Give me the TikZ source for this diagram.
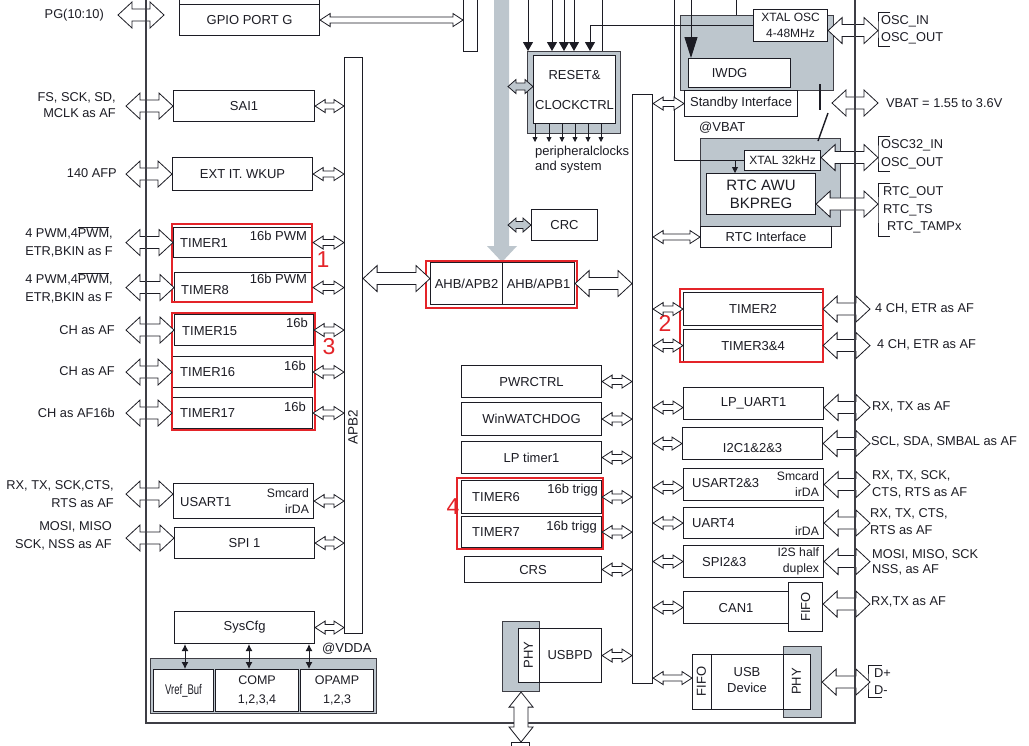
\documentclass[tikz,border=0pt]{standalone}
\usepackage{fontspec}
\setmainfont{Liberation Sans}
\usetikzlibrary{calc,arrows.meta}

\definecolor{ink}{HTML}{1C1C24}
\definecolor{bgray}{HTML}{BDC6CD}
\definecolor{redmark}{HTML}{E42429}

\newcommand{\ovl}[1]{\ensuremath{\overline{\mbox{#1}}}}
% fat hollow double arrow, horizontal, left point first
\newcommand{\fatarr}[3][hollow]{%
  \path[#1] let \p1=#2, \p2=#3 in
    (\x1,\y1) -- (\x1+14pt,\y1+13pt) -- (\x1+14pt,\y1+6pt) -- (\x2-14pt,\y1+6pt)
    -- (\x2-14pt,\y1+13pt) -- (\x2,\y1) -- (\x2-14pt,\y1-13pt) -- (\x2-14pt,\y1-6pt)
    -- (\x1+14pt,\y1-6pt) -- (\x1+14pt,\y1-13pt) -- cycle;}
% thin double arrow, horizontal
\newcommand{\thinarr}[3][hollow]{%
  \path[#1] let \p1=#2, \p2=#3 in
    (\x1,\y1) -- (\x1+10pt,\y1+6.5pt) -- (\x1+10pt,\y1+3pt) -- (\x2-10pt,\y1+3pt)
    -- (\x2-10pt,\y1+6.5pt) -- (\x2,\y1) -- (\x2-10pt,\y1-6.5pt) -- (\x2-10pt,\y1-3pt)
    -- (\x1+10pt,\y1-3pt) -- (\x1+10pt,\y1-6.5pt) -- cycle;}
% short double arrow for the AHB side
\newcommand{\stubarr}[3][grayarr]{%
  \path[#1] let \p1=#2, \p2=#3 in
    (\x1,\y1) -- (\x1+8pt,\y1+7pt) -- (\x1+8pt,\y1+3.5pt) -- (\x2-8pt,\y1+3.5pt)
    -- (\x2-8pt,\y1+7pt) -- (\x2,\y1) -- (\x2-8pt,\y1-7pt) -- (\x2-8pt,\y1-3.5pt)
    -- (\x1+8pt,\y1-3.5pt) -- (\x1+8pt,\y1-7pt) -- cycle;}
% fat hollow double arrow, vertical, top point first
\newcommand{\fatarrv}[3][hollow]{%
  \path[#1] let \p1=#2, \p2=#3 in
    (\x1,\y1) -- (\x1+12pt,\y1-15pt) -- (\x1+7pt,\y1-15pt) -- (\x1+7pt,\y2+15pt)
    -- (\x1+12pt,\y2+15pt) -- (\x1,\y2) -- (\x1-12pt,\y2+15pt) -- (\x1-7pt,\y2+15pt)
    -- (\x1-7pt,\y1-15pt) -- (\x1-12pt,\y1-15pt) -- cycle;}

\tikzset{
  every node/.style={font=\fontsize{13}{16}\selectfont, text=ink, inner sep=0pt},
  blk/.style={draw=ink, line width=1.1pt, fill=white, anchor=north west, align=center},
  gblk/.style={draw=ink!85, line width=1.1pt, fill=bgray, anchor=north west},
  grp/.style={draw=redmark, line width=1.8pt},
  grpnum/.style={text=redmark, font=\fontsize{23}{23}\selectfont},
  pinl/.style={anchor=east, align=right, font=\fontsize{12.8}{17}\selectfont},
  pinr/.style={anchor=west, align=left, font=\fontsize{12.8}{17}\selectfont},
  side/.style={font=\fontsize{12.2}{16}\selectfont, align=right},
  hollow/.style={draw=ink, line width=0.8pt, fill=white, line join=miter},
  grayarr/.style={draw=ink, line width=0.8pt, fill=bgray},
  wire/.style={draw=ink, line width=0.9pt},
  bus/.style={draw=ink!85, line width=1.2pt},
  intip/.style={wire, -{Triangle[length=9pt,width=10pt]}},
  bigtip/.style={wire, -{Triangle[length=21pt,width=13pt]}},
  outtip/.style={wire, line width=0.8pt, -{Triangle[length=5pt,width=5pt]}},
  lsetip/.style={wire, -{Triangle[length=6pt,width=6pt]}},
  cfgtip/.style={wire, line width=1pt, {Latex[length=7pt,width=7pt]}-{Latex[length=7pt,width=7pt]}},
}

\begin{document}
\begin{tikzpicture}[x=1pt,y=-1pt]
  \fill[white] (0,0) rectangle (1029,745);
  \useasboundingbox (0,0) rectangle (1029,745);

  % bus and pin reference points
  \coordinate (lbus) at (146,0);
  \coordinate (rbus) at (855,0);
  \coordinate (busbot) at (0,723);
  \coordinate (pinL) at (126,0);
  \coordinate (pinR) at (870,0);
  \coordinate (oscpin) at (878,0);
  \coordinate (ahbbar) at (508,0);
  \coordinate (pgL) at (118,15);
  \coordinate (pgR) at (164,15);
  \coordinate (vbatL) at (832,103);
  \coordinate (usbend) at (520,742);

  % AHB bus coming from the top
  \fill[bgray] (494,0) -- (509,0) -- (509,246) -- (517,246) -- (502,262) -- (487,246) -- (494,246) -- cycle;

  % gray backgrounds
  \node[gblk, minimum width=93, minimum height=82] (rstg) at (527,51) {};
  \node[gblk, minimum width=153, minimum height=75] (oscg) at (680,15) {};
  \node[gblk, minimum width=140, minimum height=88] (rtcg) at (700,138) {};
  \node[gblk, minimum width=226, minimum height=55] (vdda) at (150,658) {};
  \node[gblk, minimum width=37, minimum height=70] (usbpdg) at (502,621) {};
  \node[gblk, minimum width=38, minimum height=71] (usbphy) at (783,646) {};

  % clock wiring
  \draw[wire] (736,0) -- (736,0 |- oscg.north);
  \draw[wire] (674,0) |- (744,160);
  \draw[bigtip] (691,0) -- (691,58);

  % left column
  \node[blk, minimum width=140, minimum height=16] (gpioup) at (179,-12) {};
  \node[blk, minimum width=140, minimum height=31] (gpio) at (179,4) {GPIO PORT G};
  \node[blk, minimum width=14, minimum height=61] (gpiobus) at (463,-10) {};
  \node[blk, minimum width=141, minimum height=31] (sai) at (173,90) {SAI1};
  \node[blk, minimum width=140, minimum height=33] (exti) at (172,157) {EXT IT. WKUP};
  \node[blk, minimum width=139, minimum height=30] (tima) at (173,227) {};
  \node[anchor=west] (timat) at ([xshift=7pt]tima.west) {TIMER1};
  \node[anchor=east] (timas) at ([xshift=-6pt,yshift=-9pt]tima.north east) {16b PWM};
  \node[blk, minimum width=138, minimum height=30] (timh) at (174,272) {};
  \node[anchor=west] (timht) at ([xshift=7pt,yshift=-2pt]timh.west) {TIMER8};
  \node[anchor=east] (timhs) at ([xshift=-6pt,yshift=-7pt]timh.north east) {16b PWM};
  \node[blk, minimum width=139, minimum height=31] (timo) at (174,314) {};
  \node[anchor=west] (timot) at ([xshift=8pt,yshift=-1pt]timo.west) {TIMER15};
  \node[anchor=east] (timos) at ([xshift=-6pt,yshift=-9pt]timo.north east) {16b};
  \node[blk, minimum width=140, minimum height=31] (timp) at (172,356) {};
  \node[anchor=west] (timpt) at ([xshift=8pt]timp.west) {TIMER16};
  \node[anchor=east] (timps) at ([xshift=-7pt,yshift=-10pt]timp.north east) {16b};
  \node[blk, minimum width=140, minimum height=31] (timq) at (172,397) {};
  \node[anchor=west] (timqt) at ([xshift=8pt]timq.west) {TIMER17};
  \node[anchor=east] (timqs) at ([xshift=-7pt,yshift=-10pt]timq.north east) {16b};
  \node[blk, minimum width=140, minimum height=35] (usart) at (173,483) {};
  \node[anchor=west] (usartt) at ([xshift=7pt,yshift=-1pt]usart.west) {USART1};
  \node[side, anchor=east] (usarts) at ([xshift=-5pt]usart.east) {Smcard\\irDA};
  \node[blk, minimum width=140, minimum height=31] (spi) at (174,527) {SPI 1};
  \node[blk, minimum width=140, minimum height=32] (sysc) at (174,611) {SysCfg};
  \node[blk, minimum width=60, minimum height=42] (vref) at (153,669) {\fontsize{14}{16}\selectfont\scalebox{0.68}[1]{Vref\_Buf}};
  \node[blk, minimum width=83, minimum height=42, font=\fontsize{12.5}{19}\selectfont] (comp) at (215,669) {COMP\\1,2,3,4};
  \node[blk, minimum width=73, minimum height=42, font=\fontsize{12.5}{19}\selectfont] (opamp) at (300,669) {OPAMP\\1,2,3};
  \node[anchor=west] (vddat) at (322,649) {@VDDA};
  \node[blk, minimum width=18, minimum height=576] (apbtwo) at (344,57) {};
  \node[rotate=90, font=\fontsize{13.5}{16}\selectfont] (apbtwot) at (353,427) {APB2};

  % middle column
  \node[blk, minimum width=72, minimum height=42] (ahbtwo) at (430,262) {AHB/APB2};
  \node[blk, minimum width=72, minimum height=42] (ahbone) at (502,262) {AHB/APB1};
  \node[blk, minimum width=82, minimum height=68] (rstw) at (533,55) {RESET\&\\[14pt]CLOCKCTRL};
  \node[blk, minimum width=66, minimum height=31] (crc) at (531,209) {CRC};
  \node[anchor=west, align=left, font=\fontsize{13}{15}\selectfont] (perclk) at (535,160) {peripheralclocks\\and system};
  \node[blk, minimum width=140, minimum height=32] (pwr) at (461,365) {PWRCTRL};
  \node[blk, minimum width=140, minimum height=33] (wwdg) at (461,402) {WinWATCHDOG};
  \node[blk, minimum width=140, minimum height=32] (lptim) at (461,441) {LP timer1};
  \node[blk, minimum width=140, minimum height=33] (timf) at (461,480) {};
  \node[anchor=west] (timft) at ([xshift=11pt]timf.west) {TIMER6};
  \node[anchor=east] (timfs) at ([xshift=-4pt,yshift=-10pt]timf.north east) {16b trigg};
  \node[blk, minimum width=140, minimum height=31] (timg) at (461,516) {};
  \node[anchor=west] (timgt) at ([xshift=11pt]timg.west) {TIMER7};
  \node[anchor=east] (timgs) at ([xshift=-5pt,yshift=-11pt]timg.north east) {16b trigg};
  \node[blk, minimum width=137, minimum height=26] (crs) at (464,556) {CRS};
  \node[blk, minimum width=83, minimum height=54] (usbpd) at (518,628) {};
  \draw[wire] (539,0 |- usbpd.north) -- (539,0 |- usbpd.south);
  \node[rotate=90] (usbpdphy) at (528.5,655) {PHY};
  \node (usbpdt) at (570,655) {USBPD};
  \node[blk, minimum width=20, minimum height=589] (apbone) at (632,94) {};

  % right column
  \node[blk, minimum width=74, minimum height=32, font=\fontsize{12}{16}\selectfont] (xtalosc) at (753,9) {XTAL OSC\\4-48MHz};
  \node[blk, minimum width=102, minimum height=29] (iwdg) at (688,58) {};
  \node (iwdgt) at ([xshift=-10pt]iwdg.center) {IWDG};
  \node[blk, minimum width=113, minimum height=26] (standby) at (684,90) {Standby Interface};
  \node[anchor=west] (vbatt) at (699,128) {@VBAT};
  \node[blk, minimum width=76, minimum height=20, font=\fontsize{12}{16}\selectfont] (xtallse) at (744,150) {XTAL 32kHz};
  \node[blk, minimum width=109, minimum height=41, font=\fontsize{15}{18}\selectfont] (rtcawu) at (706,173) {RTC AWU\\BKPREG};
  \node[blk, minimum width=131, minimum height=21] (rtcif) at (700,226) {RTC Interface};
  \node[blk, minimum width=139, minimum height=33] (timb) at (683,292) {TIMER2};
  \node[blk, minimum width=139, minimum height=32] (timc) at (683,329) {TIMER3\&4};
  \node[blk, minimum width=140, minimum height=32] (lpuart) at (683,387) {LP\_UART1};
  \node[blk, minimum width=140, minimum height=32] (iic) at (682,427) {};
  \node (iict) at ([yshift=-4pt]iic.center) {I2C1\&2\&3};
  \node[blk, minimum width=140, minimum height=32] (usartb) at (683,468) {};
  \node[anchor=west] (usartbt) at ([xshift=9pt,yshift=2pt]usartb.west) {USART2\&3};
  \node[side, anchor=east] (usartbs) at ([xshift=-5pt]usartb.east) {Smcard\\irDA};
  \node[blk, minimum width=140, minimum height=31] (uart) at (683,507) {};
  \node[anchor=west] (uartt) at ([xshift=9pt]uart.west) {UART4};
  \node[side, anchor=east] (uarts) at ([xshift=-5pt,yshift=-8pt]uart.east) {irDA};
  \node[blk, minimum width=140, minimum height=32] (spib) at (683,545) {};
  \node[anchor=west] (spibt) at ([xshift=19pt]spib.west) {SPI2\&3};
  \node[side, anchor=east] (spibs) at ([xshift=-5pt]spib.east) {I2S half\\duplex};
  \node[blk, minimum width=105, minimum height=32] (can) at (683,591) {CAN1};
  \node[blk, minimum width=34, minimum height=49] (canfifo) at (788,582) {};
  \node[rotate=90] (canfifot) at (canfifo.center) {FIFO};
  \node[blk, minimum width=118, minimum height=55] (usbdev) at (692,654) {};
  \draw[wire] (711,0 |- usbdev.north) -- (711,0 |- usbdev.south);
  \draw[wire] (783,0 |- usbdev.north) -- (783,0 |- usbdev.south);
  \node[rotate=90] (usbfifo) at (701.5,681.5) {FIFO};
  \node[align=center] (usbdevt) at (747,680) {USB\\Device};
  \node[rotate=90] (usbphyt) at (796.5,681.5) {PHY};

  % clock arrows into and out of RESET & CLOCKCTRL
  \foreach \x in {528,552,564,574}
    \draw[intip] (\x,0) -- (\x,0 |- rstg.north);
  \draw[intip] (xtalosc.west) -| (590,0 |- rstg.north);
  \draw[wire] (602,0) -- (602,0 |- rstg.north);
  \foreach \x in {535,549,562,575,588,601}
    \draw[outtip] (\x,0 |- rstw.south) -- (\x,142);
  \draw[lsetip] (735,0 |- xtallse.west) -- (735,0 |- rtcawu.north);
  % VBAT switch
  \draw[ink, line width=2pt] (820,84) -- (820,110);
  \draw[ink, line width=1.4pt] (828,113) -- (818,141);

  % groups
  \draw[grp] (172,224) rectangle (312,302);
  \draw[grp] (172,313) rectangle (315,430);
  \draw[grp] (426,261) rectangle (577,308);
  \draw[grp] (680,289) rectangle (823,362);
  \draw[grp] (457,478) rectangle (603,549);
  \node[grpnum] (numa) at (323,260) {1};
  \node[grpnum] (numb) at (665,323) {2};
  \node[grpnum] (numc) at (329,347) {3};
  \node[grpnum] (numd) at (453,507) {4};

  % left pins
  \node[pinl] (pgpin) at (104,15) {PG(10:10)};
  \node[pinl, font=\fontsize{12.8}{16}\selectfont] (saipin) at (116,105) {FS, SCK, SD,\\MCLK as AF};
  \node[pinl] (extipin) at (117,173) {140 AFP};
  \node[pinl, font=\fontsize{12.8}{18.5}\selectfont] (timapin) at (113,242) {4 PWM,4\ovl{PWM},\\ETR,BKIN as F};
  \node[pinl, font=\fontsize{12.8}{18}\selectfont] (timhpin) at (113,288) {4 PWM,4\ovl{PWM},\\ETR,BKIN as F};
  \node[pinl] (timopin) at (115,330) {CH as AF};
  \node[pinl] (timppin) at (115,371) {CH as AF};
  \node[pinl] (timqpin) at (115,413) {CH as AF16b};
  \node[pinl, font=\fontsize{12.8}{18}\selectfont] (usartpin) at (114,494) {RX, TX, SCK,CTS,\\RTS as AF};
  \node[pinl, font=\fontsize{12.8}{18}\selectfont] (spipin) at (112,536) {MOSI, MISO\\SCK, NSS as AF};

  % right pins
  \node[pinr] (oscpins) at (881,29.5) {OSC\_IN\\OSC\_OUT};
  \draw[wire] ([xshift=9pt,yshift=3pt]oscpins.north west) -| ([xshift=-3pt]oscpins.west) |- ([xshift=9pt,yshift=-3pt]oscpins.south west);
  \node[pinr] (vbatpin) at (886,103) {VBAT = 1.55 to 3.6V};
  \node[pinr, font=\fontsize{12.8}{18}\selectfont] (lsepins) at (881,154) {OSC32\_IN\\OSC\_OUT};
  \draw[wire] ([xshift=9pt,yshift=3pt]lsepins.north west) -| ([xshift=-3pt]lsepins.west) |- ([xshift=9pt,yshift=-3pt]lsepins.south west);
  \node[pinr, font=\fontsize{12.8}{17.5}\selectfont] (rtcpins) at (883,210) {RTC\_OUT\\RTC\_TS\\\hspace*{4pt}RTC\_TAMPx};
  \draw[wire] ([xshift=7pt,yshift=3pt]rtcpins.north west) -| ([xshift=-5pt]rtcpins.west) |- ([xshift=7pt,yshift=-3pt]rtcpins.south west);
  \node[pinr] (timbpin) at (875,309) {4 CH, ETR as AF};
  \node[pinr] (timcpin) at (877,345) {4 CH, ETR as AF};
  \node[pinr] (lpuartpin) at (872,407) {RX, TX as AF};
  \node[pinr] (iicpin) at (871,442) {SCL, SDA, SMBAL as AF};
  \node[pinr] (usartbpin) at (872,484.5) {RX, TX, SCK,\\CTS, RTS as AF};
  \node[pinr] (uartpin) at (870,522) {RX, TX, CTS,\\RTS as AF};
  \node[pinr, font=\fontsize{12.8}{15.5}\selectfont] (spibpin) at (872,562.5) {MOSI, MISO, SCK\\NSS, as AF};
  \node[pinr] (canpin) at (871,602) {RX,TX as AF};
  \node[pinr] (usbpins) at (874,681.5) {D+\\D-};
  \draw[wire] ([xshift=8pt,yshift=3pt]usbpins.north west) -| ([xshift=-6pt]usbpins.west) |- ([xshift=8pt,yshift=-3pt]usbpins.south west);

  % SysCfg to analog blocks
  \foreach \x in {185,249,309}
    \draw[cfgtip] (\x,0 |- sysc.south) -- (\x,0 |- vref.north);

  % links on APB2
  \thinarr{(gpio.east)}{(gpio.east -| gpiobus.west)}
  \foreach \b in {sai,exti,tima,timh,timo,timp,timq,usart,spi,sysc}
    \thinarr{(\b.east)}{(\b.east -| apbtwo.west)};
  \fatarr{(pgL)}{(pgR)}
  \foreach \b in {sai,exti,tima,timh,timo,timp,timq}
    \fatarr{(\b.west -| pinL)}{(\b.west)};
  \fatarr{([yshift=7pt]usart.west -| pinL)}{([yshift=7pt]usart.west)}
  \fatarr{([yshift=5pt]spi.west -| pinL)}{([yshift=5pt]spi.west)}
  \fatarr{([yshift=5pt]ahbtwo.west -| apbtwo.east)}{([yshift=5pt]ahbtwo.west)}

  % links on APB1
  \fatarr{(ahbone.east)}{(ahbone.east -| apbone.west)}
  \foreach \b in {pwr,wwdg,lptim,timf,timg,crs,usbpd}
    \thinarr{(\b.east)}{(\b.east -| apbone.west)};
  \stubarr{([yshift=3pt]rstw.west -| ahbbar)}{([yshift=3pt]rstw.west)}
  \stubarr{(crc.west -| ahbbar)}{(crc.west)}
  \foreach \b in {standby,rtcif,timb,timc,iic,uart,spib,can}
    \thinarr{(\b.west -| apbone.east)}{(\b.west)};
  \thinarr{([yshift=-4pt]lpuart.west -| apbone.east)}{([yshift=-4pt]lpuart.west)}
  \thinarr{([yshift=-3pt]usartb.west -| apbone.east)}{([yshift=-3pt]usartb.west)}
  \thinarr{([yshift=4pt]usbdev.west -| apbone.east)}{([yshift=4pt]usbdev.west)}

  % right side pins
  \foreach \b in {timb,timc,iic,usartb,uart,spib,usbphy}
    \fatarr{(\b.east)}{(\b.east -| pinR)};
  \fatarr{([yshift=-4pt]lpuart.east)}{([yshift=-4pt]lpuart.east -| pinR)}
  \fatarr{([yshift=3pt]canfifo.east)}{([yshift=3pt]canfifo.east -| pinR)}
  \fatarr{([yshift=-5pt]xtalosc.east)}{([yshift=-5pt]xtalosc.east -| oscpin)}
  \fatarr{([yshift=3pt]xtallse.east)}{([yshift=3pt]xtallse.east -| oscpin)}
  \fatarr{([yshift=-10pt]rtcawu.east)}{([yshift=-10pt]rtcawu.east -| oscpin)}
  \fatarr{(vbatL)}{(vbatL -| oscpin)}

  % bus lines
  \draw[bus] (lbus) |- (busbot -| rbus) -- (rbus);

  % USB PD pins
  \node[blk, minimum width=18, minimum height=20] (usbpdpin) at (511,742) {};
  \fatarrv{(usbpdg.south)}{(usbpdg.south |- usbend)}
\end{tikzpicture}
\end{document}
